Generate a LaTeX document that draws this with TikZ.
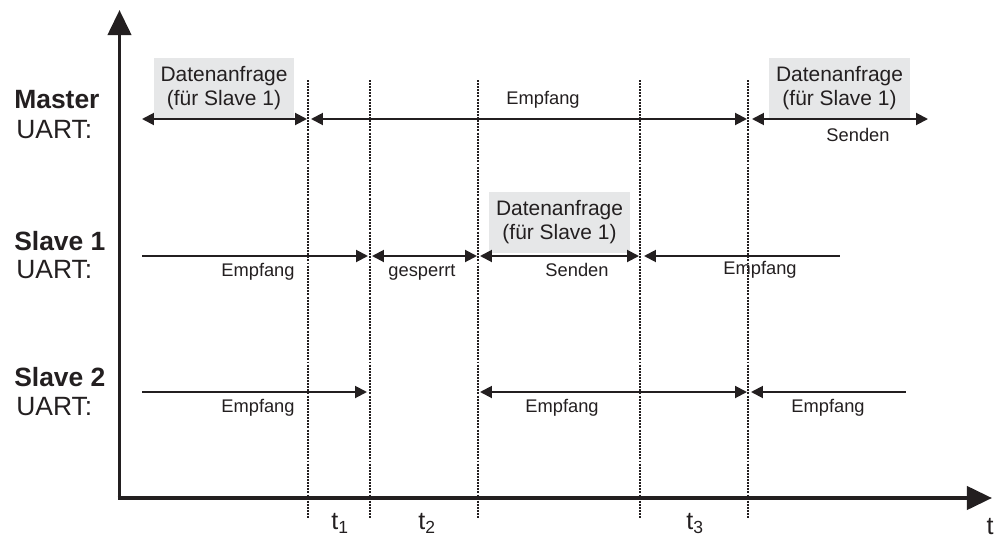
\documentclass[tikz,border=0pt]{standalone}
\usepackage{fontspec}
\setmainfont{Liberation Sans}
\usetikzlibrary{arrows.meta}
\definecolor{ink}{HTML}{231F20}
\definecolor{boxgray}{HTML}{E6E7E8}

\begin{document}
\begin{tikzpicture}[x=0.025cm, y=-0.025cm, color=ink,
	>={Triangle[length=8.5pt,width=8.5pt]},
	axis/.style={line width=2.8pt, -{Triangle[length=17.8pt,width=16.4pt]}},
	phase/.style={line width=1.4pt},
	tmark/.style={line width=0.8pt, dash pattern=on 1.4pt off 0.8pt},
	reqbox/.style={fill=boxgray, align=center, inner sep=0pt, minimum width=100pt, minimum height=42.7pt, font=\fontsize{14.9}{17}\selectfont},
	lbl/.style={font=\fontsize{13}{15}\selectfont},
	rowname/.style={anchor=west, inner sep=0pt, font=\fontsize{18.8}{22}\selectfont},
	tname/.style={anchor=north, inner sep=0pt, font=\fontsize{17.8}{21}\selectfont}]
					\useasboundingbox (0,0) rectangle (1000,539);
					% zeitachsen
					\draw[axis] (119.5,498) -- (119.5,10);
					\draw[axis] (117.5,498) -- (992,498);
					\foreach \x in {308,370,478,640,748}
						\draw[tmark] (\x,80) -- (\x,519);
					% Master
					\draw (14,100) node[rowname] (mname) {\textbf{Master}};
					\draw (16,130) node[rowname] (muart) {UART:};
					\draw (224,88) node[reqbox] (mreq1) {Datenanfrage\\(für Slave 1)};
					\draw (839.5,88) node[reqbox] (mreq2) {Datenanfrage\\(für Slave 1)};
					\draw[phase,<->] (142,119) -- (307,119);
					\draw[phase,<->] (311,119) -- (747,119);
					\draw[phase,<->] (752,119) -- (928,119);
					\draw (543,100) node[lbl] (memp) {Empfang};
					\draw (858,135) node[lbl] (msend) {Senden};
					% Slave 1
					\draw (14,241) node[rowname] (s1name) {\textbf{Slave 1}};
					\draw (16,270) node[rowname] (s1uart) {UART:};
					\draw (559.5,222.5) node[reqbox] (s1req) {Datenanfrage\\(für Slave 1)};
					\draw[phase,->] (142,256) -- (368,256);
					\draw[phase,<->] (372,256) -- (477,256);
					\draw[phase,<->] (480,256) -- (639,256);
					\draw[phase,<-] (644,256) -- (840,256);
					\draw (258,272) node[lbl] (s1emp1) {Empfang};
					\draw (422,272) node[lbl] (s1lock) {gesperrt};
					\draw (577,270) node[lbl] (s1send) {Senden};
					\draw (760,270) node[lbl] (s1emp2) {Empfang};
					% Slave 2
					\draw (14,377) node[rowname] (s2name) {\textbf{Slave 2}};
					\draw (16,407) node[rowname] (s2uart) {UART:};
					\draw[phase,->] (142,392) -- (367,392);
					\draw[phase,<->] (480,392) -- (747,392);
					\draw[phase,<-] (751,392) -- (906,392);
					\draw (258,408) node[lbl] (s2emp1) {Empfang};
					\draw (562,408) node[lbl] (s2emp2) {Empfang};
					\draw (828,408) node[lbl] (s2emp3) {Empfang};
					% zeiten
					\draw (340,513) node[tname] (t1) {t\textsubscript{1}};
					\draw (427,513) node[tname] (t2) {t\textsubscript{2}};
					\draw (695,513) node[tname] (t3) {t\textsubscript{3}};
					\draw (990,518) node[tname] (tax) {t};
				\end{tikzpicture}
\end{document}
